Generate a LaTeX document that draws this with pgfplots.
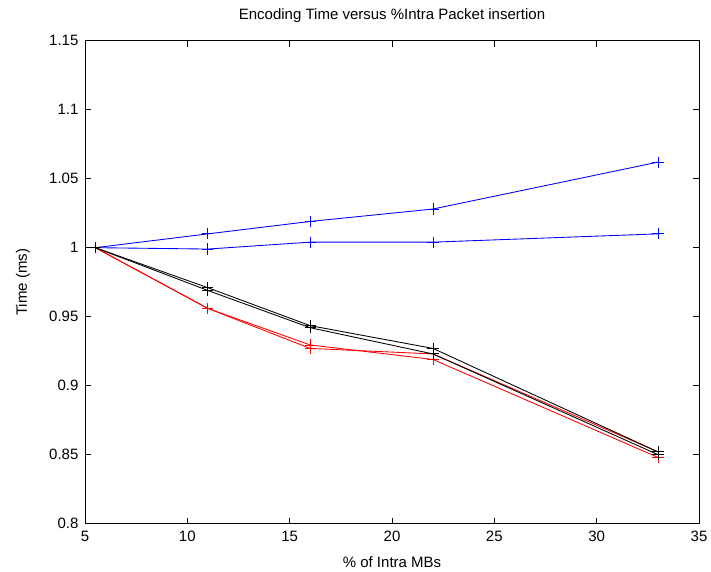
\documentclass[border=0pt]{standalone}
\usepackage{pgfplots}
\pgfplotsset{compat=1.18}
\usepackage{fontspec}
\setmainfont{Liberation Sans}
\begin{document}
\fontsize{11.25pt}{13.5pt}\selectfont
\begin{tikzpicture}
\begin{axis}[name=ax,
  scale only axis, width=460.5pt, height=362.25pt,
  xmin=5, xmax=35, ymin=0.8, ymax=1.15,
  xtick={5,10,15,20,25,30,35},
  ytick={0.8,0.85,0.9,0.95,1,1.05,1.1,1.15},
  yticklabels={0.8,0.85,0.9,0.95,1,1.05,1.1,1.15},
  xticklabels={5,10,15,20,25,30,35},
  tick align=inside, major tick length=4.5pt,
  axis line style={line width=0.75pt},
  tick style={line width=0.6pt, black},
  /pgf/number format/assume math mode=true,
  tick label style={font=\fontsize{11.25pt}{13.5pt}\selectfont},
  label style={font=\fontsize{11.25pt}{13.5pt}\selectfont},
  title style={font=\fontsize{11.25pt}{13.5pt}\selectfont, at={(0.5,1)}, anchor=base, yshift=10pt},
  title={Encoding Time versus \%Intra Packet insertion},
  xlabel={\% of Intra MBs},
  ylabel={Time (ms)},
  xlabel style={at={(0.5,0)}, anchor=base, yshift=-33pt},
  ylabel style={at={(0,0.5)}, anchor=base, yshift=43.5pt},
  xticklabel style={yshift=-1.5pt},
  yticklabel style={xshift=-1pt},
  every axis plot/.append style={line width=0.65pt, mark=+, mark size=4.2pt, mark options={line width=0.65pt}},
]
\addplot[blue] coordinates {(5.5,1) (11,1.010) (16,1.019) (22,1.028) (33,1.062)};
\addplot[blue] coordinates {(5.5,1) (11,0.999) (16,1.004) (22,1.004) (33,1.010)};
\addplot[red] coordinates {(5.5,1) (11,0.956) (16,0.9295) (22,0.919) (33,0.848)};
\addplot[red] coordinates {(5.5,1) (11,0.956) (16,0.927) (22,0.923) (33,0.852)};
\addplot[black] coordinates {(5.5,1) (11,0.971) (16,0.9435) (22,0.927) (33,0.852)};
\addplot[black] coordinates {(5.5,1) (11,0.969) (16,0.942) (22,0.923) (33,0.850)};
\end{axis}
\pgfresetboundingbox
\path ([xshift=-63.75pt,yshift=-35.5pt]ax.south west) rectangle ([xshift=9pt,yshift=30.5pt]ax.north east);
\end{tikzpicture}
\end{document}
